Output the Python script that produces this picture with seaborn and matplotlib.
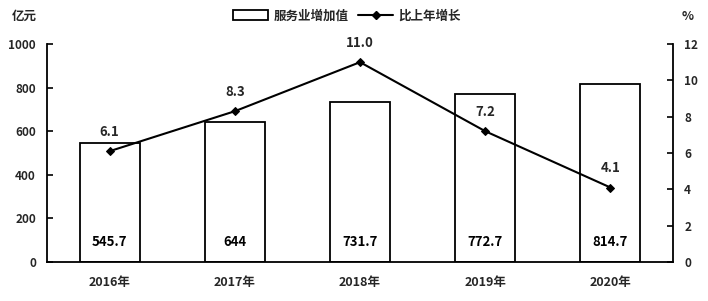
import matplotlib
matplotlib.use("Agg")
import matplotlib.pyplot as plt
import seaborn as sns
import pandas as pd
from matplotlib.patches import Patch
from matplotlib.lines import Line2D

years = ["2016年", "2017年", "2018年", "2019年", "2020年"]
value_added = [545.7, 644, 731.7, 772.7, 814.7]
value_labels = ["545.7", "644", "731.7", "772.7", "814.7"]
growth = [6.1, 8.3, 11.0, 7.2, 4.1]
growth_labels = ["6.1", "8.3", "11.0", "7.2", "4.1"]
left_ticks = [0, 200, 400, 600, 800, 1000]
right_ticks = [0, 2, 4, 6, 8, 10, 12]

sns.set_theme(style="white")
plt.rcParams["font.family"] = ["Noto Sans CJK SC", "DejaVu Sans"]
plt.rcParams["font.weight"] = "bold"

df = pd.DataFrame({"year": years, "value": value_added, "growth": growth})

fig = plt.figure(figsize=(7.08, 3.01), dpi=100)
ax = fig.add_axes([0.0664, 0.1296, 0.8842, 0.7242])

sns.barplot(data=df, x="year", y="value", ax=ax, color="white",
            edgecolor="black", linewidth=1.3, width=0.48, saturation=1)
ax.set_xlim(-0.5, len(years) - 0.5)
ax.set_ylim(0, 1000)
ax.set_yticks(left_ticks)
ax.set_yticklabels([str(t) for t in left_ticks], fontsize=8.5, fontweight="bold")
ax.set_xlabel("")
ax.set_ylabel("")
ax.tick_params(axis="x", which="major", length=0, labelsize=9, pad=10)
ax.set_xticks([i + 0.5 for i in range(len(years) - 1)], minor=True)
ax.tick_params(axis="x", which="minor", direction="in", length=4, width=1.2, color="black")
ax.tick_params(axis="y", direction="in", length=4, width=1.2, color="black", pad=8)
for lab in ax.get_xticklabels():
    lab.set_fontweight("bold")
for s in ["left", "bottom"]:
    ax.spines[s].set_color("black")
    ax.spines[s].set_linewidth(1.3)
ax.spines["top"].set_visible(False)
ax.spines["right"].set_visible(False)

for i, lab in enumerate(value_labels):
    ax.text(i, 92, lab, ha="center", va="center", fontsize=9.5, fontweight="bold", color="black")

ax2 = ax.twinx()
sns.lineplot(x=list(range(len(years))), y=growth, ax=ax2, color="black", linewidth=1.5,
             marker="D", markersize=4.5, markeredgecolor="black")
ax2.set_ylim(0, 12)
ax2.set_yticks(right_ticks)
ax2.set_yticklabels([str(t) for t in right_ticks], fontsize=8.5, fontweight="bold")
ax2.tick_params(axis="y", direction="in", length=4, width=1.2, color="black", pad=8)
ax2.spines["right"].set_color("black")
ax2.spines["right"].set_linewidth(1.3)
for s in ["top", "left", "bottom"]:
    ax2.spines[s].set_visible(False)
ax2.set_ylabel("")

for i, (g, lab) in enumerate(zip(growth, growth_labels)):
    ax2.annotate(lab, (i, g), xytext=(0, 9), textcoords="offset points",
                 ha="center", va="bottom", fontsize=9.5, fontweight="bold")

fig.text(12 / 708, 1 - 16 / 301, "亿元", ha="left", va="center", fontsize=9, fontweight="bold")
fig.text(688 / 708, 1 - 16 / 301, "%", ha="center", va="center", fontsize=9, fontweight="bold")

handles = [Patch(facecolor="white", edgecolor="black", linewidth=1.3),
           Line2D([0], [0], color="black", linewidth=1.5, marker="D", markersize=4)]
fig.legend(handles, ["服务业增加值", "比上年增长"], loc="center", bbox_to_anchor=(347 / 708, 1 - 16 / 301),
           ncol=2, frameon=False, fontsize=9, handlelength=2.8, handleheight=0.8,
           columnspacing=0.8, handletextpad=0.4, prop={"weight": "bold", "size": 9})

fig.savefig("out.png", dpi=100)
